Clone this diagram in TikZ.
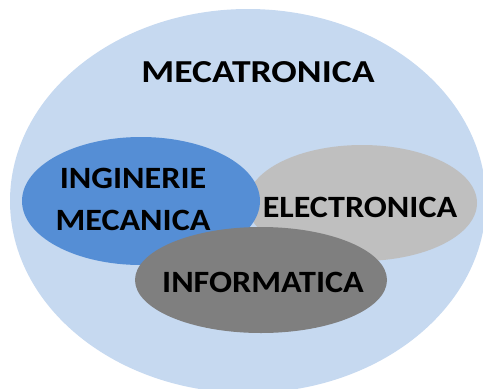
\documentclass[tikz,border=0pt]{standalone}
\usepackage{fontspec}
\setmainfont{Carlito}
\definecolor{bgblue}{HTML}{C6D9F0}
\definecolor{mecblue}{HTML}{558ED5}
\definecolor{elgray}{HTML}{BFBFBF}
\definecolor{infgray}{HTML}{7F7F7F}
\begin{document}
\begin{tikzpicture}[x=1pt,y=-1pt,
  lbl/.style={font=\fontsize{31}{42}\selectfont\bfseries, text=black, align=center, inner sep=0pt, xscale=1.1}]
\useasboundingbox (0,0) rectangle (483,389);
\begin{scope}
\clip (0,0) rectangle (483,389);
\fill[bgblue] (248,201) ellipse [x radius=238, y radius=192];
\end{scope}
\fill[elgray] (362,203) ellipse [x radius=115, y radius=58];
\fill[mecblue] (141,201) ellipse [x radius=119, y radius=64];
\fill[infgray] (261,280) ellipse [x radius=126, y radius=53];
\node[lbl, font=\fontsize{32}{42}\selectfont\bfseries, xscale=1.07] (meca) at (258,72) {MECATRONICA};
\node[lbl] (ing) at (133,199) {INGINERIE\\MECANICA};
\node[lbl] (el) at (360,207) {ELECTRONICA};
\node[lbl] (inf) at (263,282) {INFORMATICA};
\end{tikzpicture}
\end{document}
